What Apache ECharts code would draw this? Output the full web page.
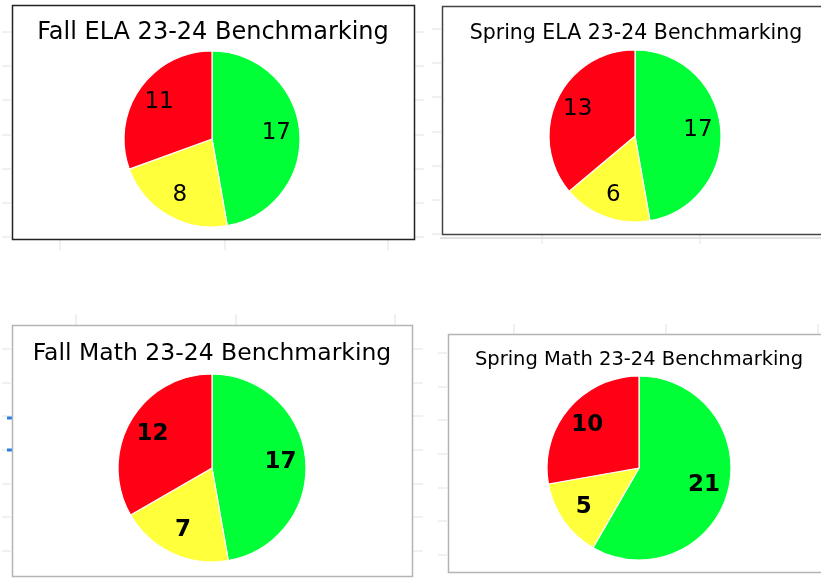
<!DOCTYPE html>
<html>
<head>
<meta charset="utf-8">
<script src="https://cdn.jsdelivr.net/npm/echarts@6/dist/echarts.min.js"></script>
<style>
  html, body { margin: 0; padding: 0; background: #fff; }
  #chart { width: 821px; height: 580px; }
</style>
</head>
<body>
<div id="chart"></div>
<script>
// slice order: green, yellow, red (clockwise from 12 o'clock)
var levels = ['Green', 'Yellow', 'Red'];
var levelColors = ['#00ff37', '#ffff3c', '#ff0014'];

var titles = [
  'Fall ELA 23-24 Benchmarking',
  'Spring ELA 23-24 Benchmarking',
  'Fall Math 23-24 Benchmarking',
  'Spring Math 23-24 Benchmarking'
];
var fallEla = [17, 8, 11];
var springEla = [17, 6, 13];
var fallMath = [17, 7, 12];
var springMath = [21, 5, 10];
var allValues = [fallEla, springEla, fallMath, springMath];

// layout of each panel
var panels = [
  { box: [12, 5, 402, 234], stroke: '#222', cx: 212, cy: 139, r: 88, tx: 208, ty: 16, ts: 24 },
  { box: [442, 6, 390, 228], stroke: '#444', cx: 635, cy: 136, r: 86, tx: 631, ty: 18, ts: 20.5 },
  { box: [12, 325, 400, 251], stroke: '#b4b4b4', cx: 212, cy: 468, r: 94, tx: 207, ty: 337, ts: 23.5 },
  { box: [448, 334, 390, 238], stroke: '#b4b4b4', cx: 639, cy: 468, r: 92, tx: 634, ty: 345, ts: 19.5 }
];
var labelBold = [false, false, true, true];

var fontFamily = 'DejaVu Sans';

var graphics = [];
// faint spreadsheet grid stubs
var stubColor = '#e2e2e2';
[60, 225, 388].forEach(function (x) {
  graphics.push({ type: 'line', shape: { x1: x, y1: 240, x2: x, y2: 250 }, style: { stroke: stubColor, lineWidth: 1 } });
});
[76, 236, 395].forEach(function (x) {
  graphics.push({ type: 'line', shape: { x1: x, y1: 314, x2: x, y2: 325 }, style: { stroke: stubColor, lineWidth: 1 } });
});
[542, 700].forEach(function (x) {
  graphics.push({ type: 'line', shape: { x1: x, y1: 234, x2: x, y2: 244 }, style: { stroke: stubColor, lineWidth: 1 } });
});
[514, 666, 818].forEach(function (x) {
  graphics.push({ type: 'line', shape: { x1: x, y1: 324, x2: x, y2: 334 }, style: { stroke: stubColor, lineWidth: 1 } });
});
graphics.push({ type: 'line', shape: { x1: 440, y1: 238, x2: 821, y2: 238 }, style: { stroke: stubColor, lineWidth: 2 } });
[32, 66, 100, 135, 169, 203, 237].forEach(function (y) {
  graphics.push({ type: 'line', shape: { x1: 2, y1: y, x2: 11, y2: y }, style: { stroke: stubColor, lineWidth: 1 } });
  graphics.push({ type: 'line', shape: { x1: 415, y1: y, x2: 424, y2: y }, style: { stroke: stubColor, lineWidth: 1 } });
  graphics.push({ type: 'line', shape: { x1: 432, y1: y - 3, x2: 441, y2: y - 3 }, style: { stroke: stubColor, lineWidth: 1 } });
});
[349, 383, 416, 450, 484, 517, 551].forEach(function (y) {
  graphics.push({ type: 'line', shape: { x1: 2, y1: y, x2: 11, y2: y }, style: { stroke: stubColor, lineWidth: 1 } });
  graphics.push({ type: 'line', shape: { x1: 413, y1: y, x2: 423, y2: y }, style: { stroke: stubColor, lineWidth: 1 } });
  graphics.push({ type: 'line', shape: { x1: 438, y1: y + 4, x2: 447, y2: y + 4 }, style: { stroke: stubColor, lineWidth: 1 } });
});
// blue marks at left edge
[418, 450].forEach(function (y) {
  graphics.push({ type: 'line', shape: { x1: 7, y1: y, x2: 12, y2: y }, style: { stroke: '#2a7de1', lineWidth: 3 } });
});

panels.forEach(function (p) {
  graphics.push({
    type: 'rect',
    shape: { x: p.box[0] + 0.5, y: p.box[1] + 0.5, width: p.box[2], height: p.box[3] },
    style: { fill: '#fff', stroke: p.stroke, lineWidth: 1.5 }
  });
});

var titleOpts = panels.map(function (p, i) {
  return {
    text: titles[i],
    left: p.tx,
    top: p.ty,
    textAlign: 'center',
    textStyle: { fontFamily: fontFamily, fontSize: p.ts, fontWeight: 'normal', color: '#000' }
  };
});

var series = [];
panels.forEach(function (p, i) {
  var data = levels.map(function (name, k) {
    return { name: name, value: allValues[i][k], itemStyle: { color: levelColors[k] } };
  });
  series.push({
    type: 'pie',
    center: [p.cx, p.cy],
    radius: [0, p.r],
    startAngle: 90,
    clockwise: true,
    silent: true,
    z: 2,
    label: { show: false },
    labelLine: { show: false },
    itemStyle: { borderColor: '#fff', borderWidth: 1.2 },
    data: data
  });
  // transparent ring to place value labels at ~70% of the radius
  series.push({
    type: 'pie',
    center: [p.cx, p.cy],
    radius: [p.r * 0.4, p.r],
    startAngle: 90,
    clockwise: true,
    silent: true,
    z: 3,
    itemStyle: { color: 'rgba(0,0,0,0)' },
    label: {
      show: true,
      position: 'inside',
      formatter: '{c}',
      color: '#000',
      fontFamily: fontFamily,
      fontSize: 23,
      fontWeight: labelBold[i] ? 'bold' : 'normal'
    },
    labelLine: { show: false },
    data: levels.map(function (name, k) {
      return { name: name, value: allValues[i][k] };
    })
  });
});

var myChart = echarts.init(document.getElementById('chart'));
myChart.setOption({
  backgroundColor: '#fff',
  animation: false,
  title: titleOpts,
  graphic: { elements: graphics },
  series: series
});
</script>
</body>
</html>
